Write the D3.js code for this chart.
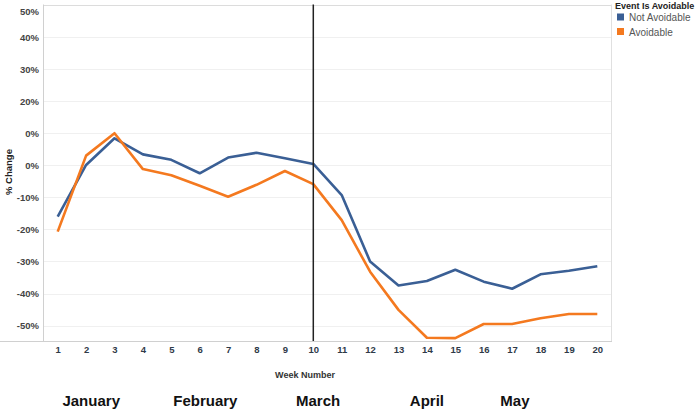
<!DOCTYPE html>
<html>
<head>
<meta charset="utf-8">
<script src="https://cdn.jsdelivr.net/npm/d3@7"></script>
<style>
  body { margin: 0; background: #fff; }
  svg { display: block; font-family: "Liberation Sans", Arial, sans-serif; }
</style>
</head>
<body>
<div class="chart"></div>
<script>
'use strict'
var weeks = d3.range(1, 21)
var notAvoidable = [-16.0, 0.1, 8.4, 3.4, 1.7, -2.5, 2.4, 3.9, 2.2, 0.4, -9.3, -30.0, -37.5, -36.1, -32.6, -36.3, -38.5, -34.0, -32.9, -31.5]
var avoidable = [-20.7, 3.0, 10.0, -1.2, -3.1, -6.4, -9.8, -6.1, -1.8, -5.9, -17.1, -33.2, -45.1, -53.8, -53.9, -49.5, -49.5, -47.7, -46.4, -46.4]
var yTicks = [50, 40, 30, 20, 10, 0, -10, -20, -30, -40, -50]
var yTickLabels = ['50%', '40%', '30%', '20%', '0%', '0%', '-10%', '-20%', '-30%', '-40%', '-50%']
var months = ['January', 'February', 'March', 'April', 'May']
var monthWeek = [2.18, 6.2, 10.17, 14.0, 17.1]
var markerWeek = 10
var series = [
  { name: 'Not Avoidable', values: notAvoidable, color: '#3a5f95' },
  { name: 'Avoidable', values: avoidable, color: '#f4791f' }
]

var width = 700
var height = 411

var x = d3.scaleLinear().domain([0.5, 20.5]).range([43.5, 611.5])
var y = d3.scaleLinear().domain([-54.8, 50]).range([341, 4.9])

var svg = d3.select('.chart').append('svg')
  .attr('width', width)
  .attr('height', height)

// gridlines
svg.append('g').selectAll('line')
  .data(yTicks)
  .enter().append('line')
  .attr('x1', x.range()[0])
  .attr('x2', x.range()[1])
  .attr('y1', function (d) { return Math.round(y(d)) + 0.5 })
  .attr('y2', function (d) { return Math.round(y(d)) + 0.5 })
  .attr('stroke', function (d, i) { return i === 0 ? '#dcdcdc' : '#f0f0f0' })

// frame
svg.append('line')
  .attr('x1', 43.5).attr('x2', 43.5).attr('y1', 4.5).attr('y2', 341)
  .attr('stroke', '#d0d0d0')
svg.append('line')
  .attr('x1', 611.5).attr('x2', 611.5).attr('y1', 4.5).attr('y2', 341)
  .attr('stroke', '#e0e0e0')
svg.append('line')
  .attr('x1', 0).attr('x2', 612).attr('y1', 341.5).attr('y2', 341.5)
  .attr('stroke', '#d0d0d0')

// y axis
var yAxis = svg.append('g')
  .attr('transform', 'translate(39,0)')
  .call(d3.axisLeft(y).tickValues(yTicks).tickSize(0).tickPadding(0)
    .tickFormat(function (d, i) { return yTickLabels[i] }))
yAxis.select('.domain').remove()
yAxis.selectAll('text')
  .attr('fill', '#444')
  .style('font-size', '9.5px')
  .style('font-weight', 'bold')
  .attr('dy', function (d, i) { return i === 0 ? '1.0em' : '0.32em' })

svg.append('text')
  .attr('transform', 'translate(12,172)rotate(-90)')
  .attr('text-anchor', 'middle')
  .attr('fill', '#222')
  .style('font-size', '9.5px')
  .style('font-weight', 'bold')
  .text('% Change')

// x axis
var xAxis = svg.append('g')
  .attr('transform', 'translate(0,341)')
  .call(d3.axisBottom(x).tickValues(weeks).tickSize(0).tickPadding(5)
    .tickFormat(d3.format('d')))
xAxis.select('.domain').remove()
xAxis.selectAll('text')
  .attr('fill', '#2f3a48')
  .style('font-size', '9.5px')
  .style('font-weight', 'bold')

svg.append('text')
  .attr('x', 305)
  .attr('y', 378)
  .attr('text-anchor', 'middle')
  .attr('fill', '#333')
  .style('font-size', '9px')
  .style('font-weight', 'bold')
  .text('Week Number')

// month labels
svg.append('g').selectAll('text')
  .data(months)
  .enter().append('text')
  .attr('x', function (d, i) { return x(monthWeek[i]) })
  .attr('y', 406)
  .attr('text-anchor', 'middle')
  .attr('fill', '#111')
  .style('font-size', '15px')
  .style('font-weight', 'bold')
  .text(function (d) { return d })

// lines
var line = d3.line()
  .x(function (d, i) { return x(weeks[i]) })
  .y(function (d) { return y(d) })

svg.append('g').selectAll('path')
  .data(series)
  .enter().append('path')
  .attr('d', function (d) { return line(d.values) })
  .attr('fill', 'none')
  .attr('stroke', function (d) { return d.color })
  .attr('stroke-width', 2.6)
  .attr('stroke-linejoin', 'round')

// march marker
svg.append('line')
  .attr('x1', x(markerWeek)).attr('x2', x(markerWeek))
  .attr('y1', 4.5).attr('y2', 341)
  .attr('stroke', '#222')
  .attr('stroke-width', 1.5)

// legend
var legend = svg.append('g').attr('transform', 'translate(615,0)')
legend.append('text')
  .attr('x', 0).attr('y', 9)
  .attr('fill', '#222')
  .style('font-size', '9px')
  .style('font-weight', 'bold')
  .text('Event Is Avoidable')
var item = legend.selectAll('.item')
  .data(series)
  .enter().append('g')
  .attr('class', 'item')
  .attr('transform', function (d, i) { return 'translate(0,' + (13.5 + i * 14.5) + ')' })
item.append('rect')
  .attr('x', 2).attr('y', 0)
  .attr('width', 7).attr('height', 7)
  .attr('fill', function (d) { return d.color })
item.append('text')
  .attr('x', 14).attr('y', 7.5)
  .attr('fill', '#555')
  .style('font-size', '10px')
  .text(function (d) { return d.name })
</script>
</body>
</html>
